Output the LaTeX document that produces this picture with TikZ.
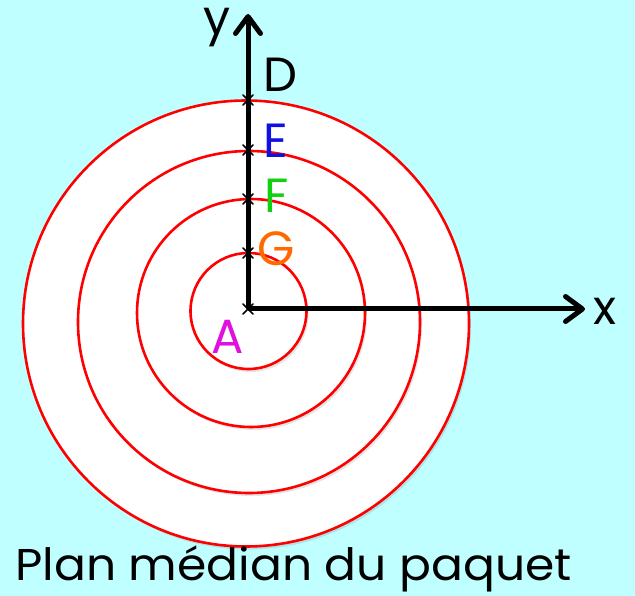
\documentclass[tikz,border=0pt]{standalone}
\usepackage{fontspec}
\setmainfont{Poppins}
\usetikzlibrary{arrows.meta,shadows}
\definecolor{bgcyan}{HTML}{C0FFFF}
\definecolor{labA}{HTML}{E010E0}
\definecolor{labE}{HTML}{1010E0}
\definecolor{labF}{HTML}{10D010}
\definecolor{labG}{HTML}{FF6A00}
\tikzset{
  ring/.style={draw=red, line width=2.6pt, fill=white,
    drop shadow={shadow xshift=2pt, shadow yshift=-3pt, opacity=0.10, fill=black}},
  axis/.style={line width=5pt, -{Straight Barb[length=17pt,width=25pt,line width=5pt,round]}},
  tick/.style={line width=1.6pt, line cap=round},
  lab/.style={anchor=base, inner sep=0pt, font=\fontsize{48}{56}\selectfont},
  title/.style={anchor=base west, inner sep=0pt, xscale=1.06, font=\fontsize{44.5}{52}\selectfont}
}
\begin{document}
\begin{tikzpicture}[x=1pt,y=1pt]
\fill[bgcyan] (0,0) rectangle (635,-596);
\useasboundingbox (0,0) rectangle (635,-596);
% rings
\path[ring] (246,-323.5) circle[radius=223pt];
\path[ring] (249,-322) circle[radius=171pt];
\path[ring] (251,-313) circle[radius=114pt];
\path[ring] (248.5,-311) circle[radius=58pt];
% axes
\coordinate (O) at (248,-309);
\coordinate (xend) at (585,-309);
\coordinate (yend) at (248,-14);
\draw[axis] (O) -- (xend);
\draw[axis] (O) -- (yend);
% ticks
\foreach \yy/\nm in {-309/tA,-253/tG,-199/tF,-150/tE,-100/tD}{
  \coordinate (\nm) at (248,\yy);
  \draw[tick] ([shift={(-5,-5)}]\nm) -- ([shift={(5,5)}]\nm);
  \draw[tick] ([shift={(-5,5)}]\nm) -- ([shift={(5,-5)}]\nm);
}
% labels
\node[lab] (ly) at (217,-35) {y};
\node[lab] (lx) at (605,-325) {x};
\node[lab] (lD) at (280,-92) {D};
\node[lab, text=labE] (lE) at (276,-158) {E};
\node[lab, text=labF] (lF) at (277,-213) {F};
\node[lab, text=labG] (lG) at (276,-266) {G};
\node[lab, text=labA] (lA) at (228,-353) {A};
\node[title] (tt) at (15,-580) {Plan médian du paquet};
\end{tikzpicture}
\end{document}
